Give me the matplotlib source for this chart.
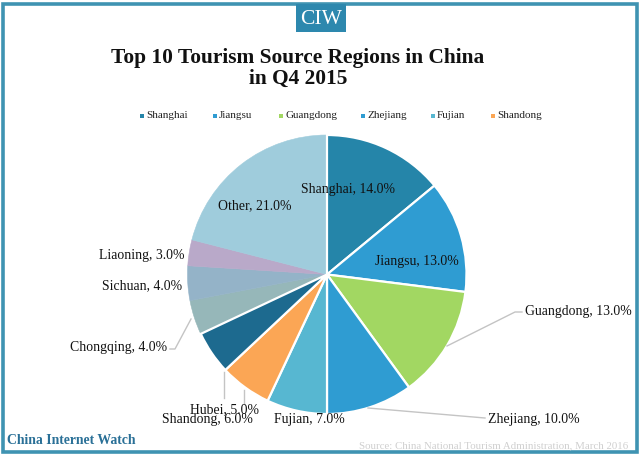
import matplotlib
matplotlib.use("Agg")
import matplotlib.pyplot as plt
from matplotlib.patches import Rectangle

regions = ["Shanghai", "Jiangsu", "Guangdong", "Zhejiang", "Fujian", "Shandong",
           "Hubei", "Chongqing", "Sichuan", "Liaoning", "Other"]
shares = [14.0, 13.0, 13.0, 10.0, 7.0, 6.0, 5.0, 4.0, 4.0, 3.0, 21.0]
colors = ["#2585A9", "#2F9CD2", "#A2D762", "#2F9CD2", "#57B7D1", "#FBA655",
          "#1D6A8F", "#96B7B9", "#94B3C8", "#B9A9C9", "#9FCCDC"]
legend_names = regions[:6]

W, H = 640, 455
SERIF = "Liberation Serif"
fig = plt.figure(figsize=(W / 100, H / 100), dpi=100, facecolor="white")
ax = fig.add_axes([0, 0, 1, 1])
ax.set_xlim(0, W)
ax.set_ylim(H, 0)
ax.axis("off")

# outer frame and logo
ax.add_patch(Rectangle((3, 4), W - 6, H - 7, fill=False, ec="#3F93B2", lw=2.6))
ax.add_patch(Rectangle((296, 4), 50, 28, fc="#2D88AE", ec="none"))
ax.text(321, 19, "CIW", color="white", family=SERIF, fontsize=15.5, ha="center", va="center")

# title
ax.text(298, 58, "Top 10 Tourism Source Regions in China", family=SERIF, weight="bold",
        fontsize=15.4, ha="center", va="center", color="#111111")
ax.text(298, 79, "in Q4 2015", family=SERIF, weight="bold",
        fontsize=15.4, ha="center", va="center", color="#111111")

# legend
legend_x = [146, 219, 285, 367, 437, 497]
for name, col, x in zip(legend_names, colors, legend_x):
    ax.add_patch(Rectangle((x - 6, 114), 3.5, 3.5, fc=col, ec="none"))
    ax.text(x, 116, name, family=SERIF, fontsize=8, ha="left", va="center", color="#222222")

# pie (y axis is inverted, so counterclock=True runs clockwise on screen)
wedges, _ = ax.pie(shares, colors=colors, startangle=-90, counterclock=True, center=(327, 274.5),
                   radius=139.5, frame=False, wedgeprops=dict(edgecolor="white", linewidth=1.6))
# the pale slices have no white separators between them in the reference
for wedge, name in zip(wedges, regions):
    if name in ("Chongqing", "Sichuan", "Liaoning", "Other"):
        wedge.set_edgecolor(wedge.get_facecolor())
        wedge.set_linewidth(0.4)
        wedge.set_zorder(0.5)
    else:
        wedge.set_zorder(1)
ax.set_xlim(0, W)
ax.set_ylim(H, 0)
ax.set_aspect("auto")

# leader lines
leaders = [
    ([447, 515, 522], [346, 312, 312]),
    ([368, 485], [408, 418]),
    ([191, 175, 170], [319, 349, 349]),
    ([224, 224], [372, 398]),
    ([244, 244], [390, 404]),
]
for xs, ys in leaders:
    ax.plot(xs, ys, color="#C4C4C4", lw=1)

# data labels
label_pos = {
    "Shanghai": (348, 190, "center"), "Jiangsu": (417, 261, "center"),
    "Guangdong": (525, 311, "left"), "Zhejiang": (488, 419, "left"),
    "Fujian": (274, 419, "left"), "Shandong": (162, 419, "left"),
    "Hubei": (190, 410, "left"), "Chongqing": (70, 348, "left"),
    "Sichuan": (102, 286, "left"), "Liaoning": (99, 255, "left"),
    "Other": (255, 206, "center"),
}
for name, val in zip(regions, shares):
    x, y, ha = label_pos[name]
    ax.text(x, y, f"{name}, {val:.1f}%", family=SERIF, fontsize=9.95, ha=ha, va="center",
            color="#111111", zorder=3)

# footer
ax.text(7, 440, "China Internet Watch", family=SERIF, weight="bold", fontsize=9.95,
        color="#2A7097", ha="left", va="center")
ax.text(628, 446, "Source: China National Tourism Administration, March 2016", family=SERIF,
        fontsize=7.8, color="#CFCFCF", ha="right", va="center")

fig.savefig("out.png", dpi=100, facecolor="white")
